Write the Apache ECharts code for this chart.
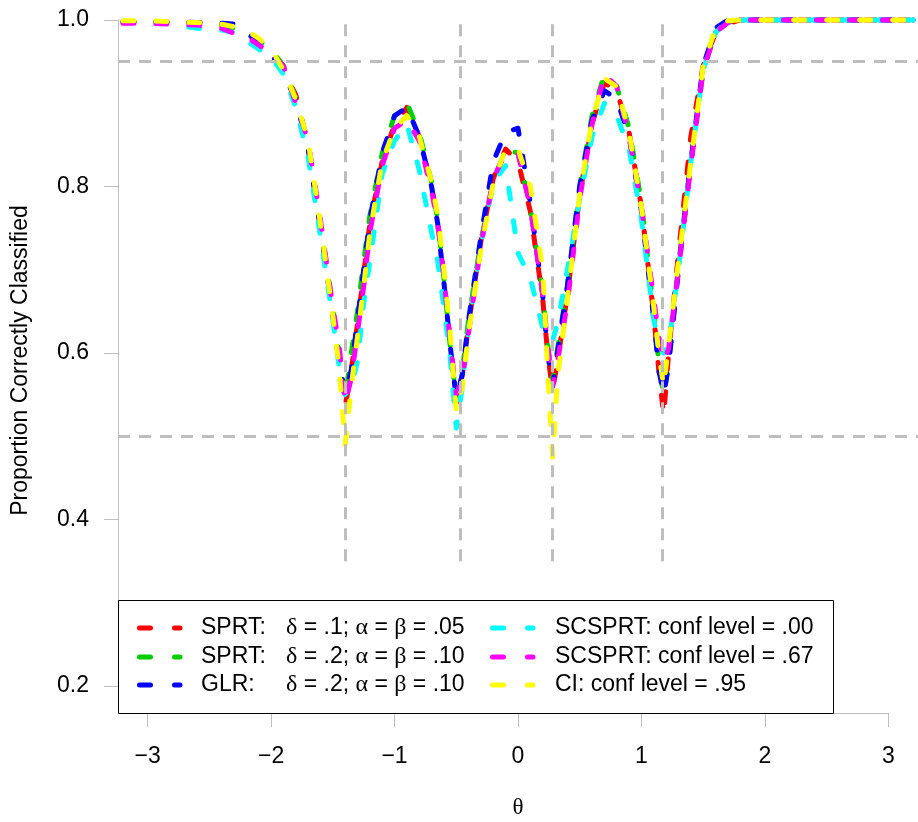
<!DOCTYPE html>
<html>
<head>
<meta charset="utf-8">
<script src="https://cdn.jsdelivr.net/npm/echarts@6/dist/echarts.min.js"></script>
<style>html,body{margin:0;padding:0;background:#fff;}#chart{width:918px;height:822px;}</style>
</head>
<body>
<div id="chart"></div>
<script>
// ---- data ----
const theta = [-3.2,-3.0,-2.8,-2.6,-2.4,-2.3,-2.2,-2.1,-2.0,-1.9,-1.8,-1.7,-1.6,-1.5,-1.45,-1.4,-1.35,-1.3,-1.25,-1.2,-1.1,-1.0,-0.9,-0.8,-0.7,-0.65,-0.6,-0.55,-0.5,-0.45,-0.4,-0.3,-0.2,-0.1,0.0,0.1,0.2,0.24,0.28,0.32,0.4,0.5,0.6,0.7,0.8,0.9,1.0,1.1,1.14,1.18,1.22,1.3,1.4,1.5,1.6,1.7,1.8,2.0,2.4,2.8,3.2];

const sprt1 = [0.998,0.998,0.997,0.997,0.994, 0.990,0.985,0.975,0.962,0.940, 0.910,0.850,0.750,0.650,0.600, 0.535,0.580,0.635,0.695,0.755, 0.830,0.875,0.895,0.860,0.800, 0.760,0.690,0.615,0.540,0.575, 0.635,0.735,0.810,0.845,0.830, 0.770,0.665,0.600,0.555,0.590, 0.670,0.790,0.875,0.925,0.915, 0.865,0.775,0.645,0.580,0.525, 0.600,0.720,0.860,0.945,0.985, 0.996,1.000,1.000,1.000,1.000,1.000];
const sprt2 = [0.998,0.998,0.997,0.996,0.993, 0.990,0.983,0.975,0.965,0.945, 0.905,0.850,0.755,0.655,0.600, 0.545,0.600,0.650,0.710,0.765, 0.840,0.885,0.900,0.865,0.805, 0.760,0.690,0.610,0.545,0.580, 0.640,0.735,0.805,0.845,0.840, 0.775,0.675,0.610,0.565,0.605, 0.680,0.800,0.885,0.935,0.920, 0.870,0.780,0.650,0.590,0.548, 0.590,0.705,0.830,0.940,0.985, 0.997,1.000,1.000,1.000,1.000,1.000];
const glr = [0.998,0.998,0.998,0.997,0.996, 0.995,0.985,0.972,0.960,0.935, 0.905,0.845,0.750,0.645,0.590, 0.550,0.580,0.640,0.700,0.760, 0.840,0.885,0.895,0.860,0.800, 0.755,0.685,0.610,0.545,0.575, 0.640,0.740,0.830,0.865,0.870, 0.780,0.670,0.600,0.560,0.600, 0.680,0.800,0.880,0.915,0.905, 0.860,0.770,0.640,0.580,0.550, 0.585,0.700,0.830,0.945,0.990, 1.000,1.000,1.000,1.000,1.000,1.000];
const scsprt00 = [0.998,0.997,0.995,0.990,0.988, 0.985,0.975,0.965,0.955,0.935, 0.895,0.835,0.740,0.640,0.585, 0.550,0.560,0.590,0.660,0.710, 0.815,0.855,0.875,0.820,0.745, 0.710,0.655,0.595,0.510,0.560, 0.630,0.730,0.805,0.825,0.720, 0.690,0.630,0.615,0.615,0.635, 0.700,0.785,0.860,0.900,0.885, 0.845,0.760,0.640,0.610,0.600, 0.610,0.700,0.830,0.940,0.985, 0.998,1.000,1.000,1.000,1.000,1.000];
const scsprt67 = [0.996,0.996,0.995,0.994,0.990, 0.984,0.980,0.970,0.960,0.945, 0.900,0.855,0.760,0.655,0.610, 0.540,0.570,0.625,0.680,0.745, 0.825,0.870,0.880,0.855,0.795, 0.755,0.690,0.615,0.550,0.570, 0.625,0.730,0.810,0.840,0.840, 0.775,0.670,0.610,0.560,0.590, 0.660,0.785,0.875,0.935,0.920, 0.860,0.775,0.665,0.620,0.590, 0.605,0.700,0.825,0.940,0.985, 0.997,1.000,1.000,1.000,1.000,1.000];
const ci95 = [0.999,0.999,0.998,0.997,0.995, 0.992,0.987,0.978,0.965,0.940, 0.905,0.855,0.755,0.645,0.585, 0.490,0.560,0.620,0.680,0.745, 0.830,0.870,0.885,0.860,0.805, 0.765,0.700,0.625,0.530,0.560, 0.625,0.725,0.805,0.845,0.845, 0.800,0.700,0.580,0.475,0.570, 0.665,0.790,0.880,0.930,0.920, 0.865,0.775,0.655,0.600,0.560, 0.610,0.710,0.830,0.945,0.990, 0.999,1.000,1.000,1.000,1.000,1.000];

const seriesValues = [sprt1, sprt2, glr, scsprt00, scsprt67, ci95];
const seriesColors = ['#FF0000', '#00CD00', '#0000FF', '#00FFFF', '#FF00FF', '#FFFF00'];
const legendNames = ['SPRT:', 'SPRT:', 'GLR:'];
const legendParams = ['{g|δ} = .1; {g|α} = {g|β} = .05', '{g|δ} = .2; {g|α} = {g|β} = .10', '{g|δ} = .2; {g|α} = {g|β} = .10'];
const legendRight = ['SCSPRT: conf level = .00', 'SCSPRT: conf level = .67', 'CI: conf level = .95'];
const seriesNames = ['SPRT: δ = .1; α = β = .05', 'SPRT: δ = .2; α = β = .10', 'GLR: δ = .2; α = β = .10',
  'SCSPRT: conf level = .00', 'SCSPRT: conf level = .67', 'CI: conf level = .95'];

const xTicks = [-3, -2, -1, 0, 1, 2, 3];
const refLevels = [0.95, 0.5];
const cutPoints = [-1.40, -0.47, 0.275, 1.17];
const cutRange = [0.35, 1.0];

// ---- chart ----
const FONT = "'Liberation Sans', Arial, Helvetica, sans-serif";
const SERIF = "'Liberation Serif', 'DejaVu Serif', serif";
const GRAY = '#BEBEBE';
const chart = echarts.init(document.getElementById('chart'), null, {renderer: 'canvas'});

const minus = v => (v < 0 ? '\u2212' + Math.abs(v) : String(v));

const series = seriesValues.map((vals, i) => ({
  name: seriesNames[i],
  type: 'line',
  data: theta.map((t, j) => [t, vals[j]]),
  symbol: 'none',
  clip: false,
  z: 3,
  lineStyle: {color: seriesColors[i], width: 5, type: [11, 22], cap: 'round', join: 'round'},
  emphasis: {disabled: true}
}));

const markData = refLevels.map(v => ({yAxis: v}))
  .concat(cutPoints.map(c => [{coord: [c, cutRange[0]]}, {coord: [c, cutRange[1]]}]));

series.unshift({
  type: 'line',
  data: [],
  z: 1,
  silent: true,
  markLine: {
    silent: true,
    symbol: 'none',
    label: {show: false},
    lineStyle: {color: GRAY, width: 3, type: [12, 9]},
    emphasis: {disabled: true},
    animation: false,
    data: markData
  }
});

const option = {
  animation: false,
  backgroundColor: '#fff',
  textStyle: {fontFamily: FONT},
  grid: {left: 118, top: 20, width: 801, height: 666, containLabel: false},
  xAxis: {
    type: 'value', min: -3.24, max: 3.24, offset: 27,
    axisLine: {show: false, onZero: false},
    splitLine: {show: false},
    axisTick: {show: true, customValues: xTicks, length: 14, lineStyle: {color: GRAY, width: 1}},
    axisLabel: {customValues: xTicks, margin: 32, fontSize: 23, color: '#000', fontFamily: FONT, formatter: minus}
  },
  yAxis: {
    type: 'value', min: 0.2, max: 1.0, interval: 0.2,
    axisLine: {show: true, onZero: false, lineStyle: {color: GRAY, width: 1}},
    splitLine: {show: false},
    axisTick: {show: true, length: 14, lineStyle: {color: GRAY, width: 1}},
    axisLabel: {margin: 29, fontSize: 23, color: '#000', fontFamily: FONT, formatter: v => v.toFixed(1)}
  },
  series: series
};
chart.setOption(option);

// decorations: x-axis line across tick range, axis titles, legend box
const xa = chart.convertToPixel({xAxisIndex: 0}, xTicks[0]);
const xb = chart.convertToPixel({xAxisIndex: 0}, xTicks[xTicks.length - 1]);
const yAxisY = chart.convertToPixel({yAxisIndex: 0}, 0.2) + 27;
const yMid = (chart.convertToPixel({yAxisIndex: 0}, 1.0) + yAxisY) / 2 - 6;
const xMid = chart.convertToPixel({xAxisIndex: 0}, 0);

const graphics = [
  {type: 'line', z: 5, shape: {x1: xa, y1: yAxisY + 0.5, x2: xb, y2: yAxisY + 0.5}, style: {stroke: GRAY, lineWidth: 1}},
  {type: 'text', z: 5, x: 21, y: yMid, rotation: Math.PI / 2,
    style: {text: 'Proportion Correctly Classified', fontSize: 23, fontFamily: FONT, fill: '#000', align: 'center', verticalAlign: 'middle'}},
  {type: 'text', z: 5, x: xMid, y: 808,
    style: {text: 'θ', fontSize: 23, fontFamily: SERIF, fill: '#000', align: 'center', verticalAlign: 'middle'}},
  {type: 'rect', z: 6, shape: {x: 118.5, y: 600.5, width: 715, height: 113}, style: {fill: 'none', stroke: '#000', lineWidth: 1}}
];
const rowY = [628, 657, 685];
for (let r = 0; r < 3; r++) {
  graphics.push({type: 'line', z: 6, shape: {x1: 139.5, y1: rowY[r], x2: 180, y2: rowY[r]},
    style: {stroke: seriesColors[r], lineWidth: 5, lineDash: [11, 24], lineCap: 'round'}});
  graphics.push({type: 'text', z: 6, x: 201, y: rowY[r],
    style: {text: legendNames[r], fontSize: 23, fontFamily: FONT, fill: '#000', align: 'left', verticalAlign: 'middle'}});
  graphics.push({type: 'text', z: 6, x: 286, y: rowY[r],
    style: {text: legendParams[r], fontSize: 23, fontFamily: FONT, fill: '#000', align: 'left', verticalAlign: 'middle',
      rich: {g: {fontSize: 24, fontFamily: SERIF, fill: '#000'}}}});
  graphics.push({type: 'line', z: 6, shape: {x1: 492.5, y1: rowY[r], x2: 533, y2: rowY[r]},
    style: {stroke: seriesColors[r + 3], lineWidth: 5, lineDash: [11, 24], lineCap: 'round'}});
  graphics.push({type: 'text', z: 6, x: 555, y: rowY[r],
    style: {text: legendRight[r], fontSize: 23, fontFamily: FONT, fill: '#000', align: 'left', verticalAlign: 'middle'}});
}
chart.setOption({graphic: graphics});
</script>
</body>
</html>
